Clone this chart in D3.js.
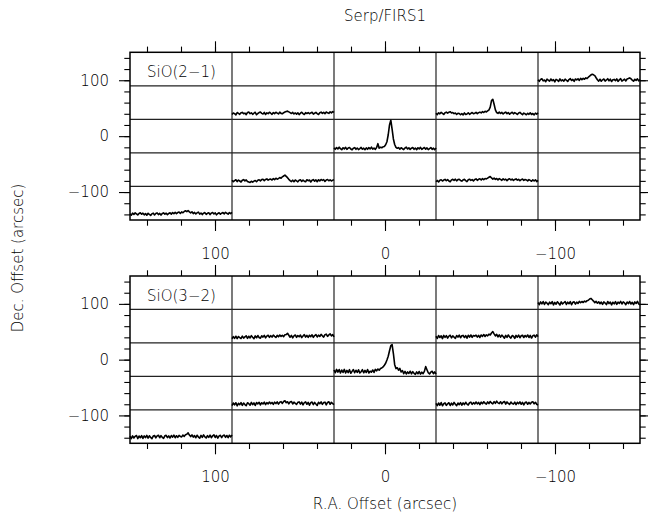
<!DOCTYPE html>
<html>
<head>
<meta charset="utf-8">
<script src="https://cdn.jsdelivr.net/npm/d3@7"></script>
<style>
  body { margin: 0; background: #fff; }
  text { font-family: "DejaVu Sans", sans-serif; font-weight: 200; fill: #000; }
</style>
</head>
<body>
<div id="chart"></div>
<script>
// map positions (arcsec offsets), same for both lines
let posRA  = [-120, 60, -60, 0, 60, -60, 120];
let posDec = [120, 60, 60, 0, -60, -60, -120];

let majorTicks = [-100, 0, 100];
let gridLines = [-90, -30, 30, 90];

// spectra, 80 channels each, intensity in mK
let s21_m120_p120 = [20,-40,30,55,-20,10,-50,40,0,-30, 45,-15,20,-55,30,5,-40,50,-20,15, -30,40,0,-45,25,60,-10,30,-40,45,
  10,55,-5,65,20,70,35,85,60,110, 150,190,215,195,165,90,20,-30,35,-35, 15,45,-30,10,55,-20,40,-45,20,30,
  -15,50,-40,15,55,-30,5,40,-25,45, 60,85,55,5,-35,35,-5,50,-25,30];
let s21_p60_p60 = [-25,30,5,-40,45,15,-20,35,50,0, 25,-30,45,60,5,35,-20,20,55,-35, 10,45,65,15,-5,50,-25,35,5,55,
  20,-20,45,5,55,25,-5,60,15,0, 40,65,85,95,70,40,10,50,-5,30, -10,35,-30,20,55,5,-25,40,10,45,
  0,30,55,-10,20,50,5,-25,40,60, 15,50,5,65,35,15,70,35,80,50];
let s21_m60_p60 = [20,-30,35,0,50,15,-25,40,60,25, 55,75,30,45,5,30,-25,20,10,-35, 5,-40,30,-25,-5,35,-20,15,45,0,
  20,50,5,40,60,30,75,45,90,65, 105,135,240,470,520,340,140,45,15,60, 10,50,-5,35,60,5,45,-15,25,55,
  0,40,15,-25,30,50,5,-30,25,0, -35,20,-20,35,-25,10,-40,25,-15,40];
let s21_0_0 = [-20,-70,-10,-60,5,-45,-85,-15,-55,0, -75,-25,-5,-60,-90,-30,-10,-70,-25,-80, -45,-5,-65,-30,-85,-20,-70,-10,-55,5,
  -65,-25,-75,-5,130,-30,5,-15,20,30, 90,200,450,800,970,650,300,100,0,-35, -10,-65,-15,-50,-80,-25,5,-60,-20,-75,
  -30,-5,-70,-25,-85,-15,-55,0,-75,-35, -5,-65,-20,-80,-45,-10,-70,-30,-85,-20];
let s21_p60_m60 = [25,-30,10,40,-25,30,-5,-40,20,45, 0,35,-20,-40,-55,-15,-45,-10,15,-30, 20,40,0,45,60,10,50,70,25,55,
  65,30,80,45,95,60,80,120,95,145, 175,205,160,115,55,10,-25,25,-30,30, 0,-35,20,40,-20,30,-10,-30,40,5,
  30,-40,20,45,-10,35,-30,40,0,50, 15,45,-20,30,50,5,35,-5,25,45];
let s21_m60_m60 = [-30,15,-40,25,40,-5,30,55,5,45, -5,-30,35,55,20,60,0,45,55,15, -10,35,55,10,-25,40,60,15,45,0,
  50,70,20,55,75,30,80,45,85,70, 100,130,155,105,65,100,55,85,35,80, 55,20,75,35,60,10,55,75,30,60,
  15,50,70,25,55,5,45,65,20,50, 35,0,45,15,-15,35,-5,40,-25,20];
let s21_p120_m120 = [20,-30,45,0,55,20,-20,35,60,5, 45,-15,30,-30,40,0,-35,20,45,-20, 30,55,-5,35,-25,30,55,5,45,-10,
  35,60,10,65,25,75,30,65,85,35, 90,60,105,130,100,140,90,55,95,30, 70,15,60,80,10,50,-5,45,65,0,
  40,60,-5,45,70,15,55,-15,35,60, 5,45,65,20,75,40,10,65,30,70];

let s32_m120_p120 = [50,-30,70,0,85,-20,65,25,-30,60, 5,80,-35,55,-10,75,20,-40,70,-5, 40,85,-20,60,5,80,-30,55,75,-10,
  65,15,90,40,85,50,100,70,115,130, 175,195,150,100,45,90,25,75,5,65, -15,70,30,-25,85,10,65,-35,60,0,
  80,-15,65,20,90,-5,70,35,-30,65, 10,85,-5,55,-25,70,15,90,0,-40];
let s32_p60_p60 = [-50,25,-35,40,-45,30,-10,-40,45,-30, 15,55,-35,40,-20,60,5,-45,50,-15, 65,-5,-30,55,10,70,-20,45,75,0,
  60,10,80,35,-5,70,20,85,35,75, 25,90,100,145,75,5,70,-20,55,85, 0,65,20,80,-10,50,95,10,70,0,
  75,25,90,0,65,100,15,80,30,105, 55,10,95,115,35,85,125,50,100,20];
let s32_m60_p60 = [40,-40,65,-5,55,-45,70,0,60,-25, 45,75,-20,55,5,-35,65,10,80,-15, 55,70,-5,60,-30,75,10,85,0,65,
  45,80,10,70,-5,85,35,100,30,90, 55,115,85,155,205,125,50,110,15,90, 5,80,30,-30,70,0,85,15,-25,65,
  40,-35,70,5,80,-15,55,75,-5,65, 15,85,-5,70,-25,55,80,5,90,25];
let s32_0_0 = [30,-70,50,-45,45,-80,25,-60,50,-75, 15,-65,40,-85,-20,45,-70,20,-55,35, -80,-35,40,-70,15,-60,45,-75,-15,-50,
  30,-60,50,0,65,20,80,100,140,200, 270,390,520,720,900,940,620,220,80,110, 20,85,-40,10,-100,-20,-115,-40,-95,-15,
  -110,-30,-90,-125,-40,-105,-25,-120,-50,-100, -20,150,40,-70,-115,-45,-15,-105,-40,-120];
let s32_p60_m60 = [-45,45,-20,55,-55,35,-15,60,-40,45, -10,-50,55,20,-35,65,-15,50,-45,60, 15,70,-25,55,10,75,-10,60,15,80,
  20,65,-5,75,25,85,5,70,95,30, 100,125,55,90,15,80,100,10,75,35, -5,70,85,5,75,-20,60,85,0,65,
  -35,55,80,-10,65,10,-40,70,20,85, -5,60,75,-20,65,90,0,70,20,-15];
let s32_m60_m60 = [30,-50,45,-35,60,-55,20,50,-40,15, 55,-45,40,-25,65,0,-50,45,-15,60, -35,50,-10,70,5,-25,55,75,-5,60,
  10,80,15,65,-15,75,20,90,35,5, 85,25,100,45,15,95,35,110,50,25, 90,15,75,100,5,85,30,-5,80,25,
  5,75,-10,70,20,85,0,65,-20,60, 80,0,65,10,75,90,15,70,0,-30];
let s32_p120_m120 = [55,-30,65,-10,50,80,-30,60,0,75, -25,65,5,85,-15,70,10,-35,60,80, -5,65,90,0,75,15,-20,70,85,5,
  65,-10,80,20,95,0,70,15,85,45, 30,95,50,110,125,175,95,40,100,20, 75,0,90,25,-15,85,10,100,30,-10,
  75,15,90,0,70,105,10,80,-15,65, 85,5,75,95,15,80,0,90,30,100];

let spectra21 = [s21_m120_p120, s21_p60_p60, s21_m60_p60, s21_0_0, s21_p60_m60, s21_m60_m60, s21_p120_m120];
let spectra32 = [s32_m120_p120, s32_p60_p60, s32_m60_p60, s32_0_0, s32_p60_m60, s32_m60_m60, s32_p120_m120];

let width = 648, height = 517;
let cellHalf = 30;

let svg = d3.select("#chart").append("svg")
    .attr("width", width)
    .attr("height", height);

let x = d3.scaleLinear().domain([150, -150]).range([130, 640]);

let panels = [
    {top: 52.3, bottom: 220, label: "SiO(2\u22121)", spectra: spectra21},
    {top: 276, bottom: 443.3, label: "SiO(3\u22122)", spectra: spectra32}
];

let fmt = d => d < 0 ? "\u2212" + Math.abs(d) : String(d);
let minorTicks = d3.range(-140, 141, 20);

panels.forEach(function(p) {
    let y = d3.scaleLinear().domain([-150, 150]).range([p.bottom, p.top]);
    let g = svg.append("g");

    // grid lines between map cells
    g.selectAll(".vgrid").data(gridLines).enter().append("line")
        .attr("x1", d => x(d)).attr("x2", d => x(d))
        .attr("y1", p.top).attr("y2", p.bottom)
        .attr("stroke", "#222").attr("stroke-width", 1.2);
    g.selectAll(".hgrid").data(gridLines).enter().append("line")
        .attr("x1", x(150)).attr("x2", x(-150))
        .attr("y1", d => y(d)).attr("y2", d => y(d))
        .attr("stroke", "#222").attr("stroke-width", 1.2);

    // spectra
    p.spectra.forEach(function(spec, i) {
        let ra = posRA[i], dec = posDec[i];
        let xc = d3.scaleLinear().domain([0, spec.length - 1]).range([x(ra + cellHalf), x(ra - cellHalf)]);
        let yc = d3.scaleLinear().domain([-200, 1000]).range([y(dec - cellHalf), y(dec + cellHalf)]);
        let line = d3.line().x((d, k) => xc(k)).y(d => yc(d));
        g.append("path").datum(spec)
            .attr("d", line)
            .attr("fill", "none")
            .attr("stroke", "#000")
            .attr("stroke-width", 1.6)
            .attr("stroke-linejoin", "round");
    });

    // frame
    g.append("rect")
        .attr("x", x(150)).attr("y", p.top)
        .attr("width", x(-150) - x(150)).attr("height", p.bottom - p.top)
        .attr("fill", "none").attr("stroke", "#000").attr("stroke-width", 1.5);

    // ticks (outward), minor then major
    let axes = [
        [d3.axisTop(x), "translate(0," + p.top + ")"],
        [d3.axisBottom(x), "translate(0," + p.bottom + ")"],
        [d3.axisLeft(y), "translate(" + x(150) + ",0)"],
        [d3.axisRight(y), "translate(" + x(-150) + ",0)"]
    ];
    axes.forEach(function(a) {
        let gm = g.append("g").attr("transform", a[1])
            .call(a[0].tickValues(minorTicks).tickSize(5.7).tickFormat(""));
        gm.select(".domain").remove();
        gm.selectAll("line").attr("stroke", "#000").attr("stroke-width", 1.1);
    });
    let axesMajor = [
        [d3.axisTop(x), "translate(0," + p.top + ")", false, 10],
        [d3.axisBottom(x), "translate(0," + p.bottom + ")", true, 17],
        [d3.axisLeft(y), "translate(" + x(150) + ",0)", true, 10],
        [d3.axisRight(y), "translate(" + x(-150) + ",0)", false, 10]
    ];
    axesMajor.forEach(function(a) {
        let gM = g.append("g").attr("transform", a[1])
            .call(a[0].tickValues(majorTicks).tickSize(11).tickPadding(a[3])
                .tickFormat(a[2] ? fmt : ""));
        gM.select(".domain").remove();
        gM.selectAll("line").attr("stroke", "#000").attr("stroke-width", 1.1);
        gM.selectAll("text")
            .style("font-family", "DejaVu Sans, sans-serif")
            .style("font-weight", 200)
            .style("font-size", "15px")
            .attr("fill", "#000");
    });

    // line label
    g.append("text")
        .attr("x", 147).attr("y", p.top + 25)
        .style("font-size", "15px")
        .text(p.label);
});

svg.append("text")
    .attr("x", 385).attr("y", 21)
    .attr("text-anchor", "middle")
    .style("font-size", "15px")
    .text("Serp/FIRS1");

svg.append("text")
    .attr("x", 385).attr("y", 509)
    .attr("text-anchor", "middle")
    .style("font-size", "15px")
    .text("R.A. Offset (arcsec)");

svg.append("text")
    .attr("transform", "translate(23,258) rotate(-90)")
    .attr("text-anchor", "middle")
    .style("font-size", "15px")
    .text("Dec. Offset (arcsec)");
</script>
</body>
</html>
